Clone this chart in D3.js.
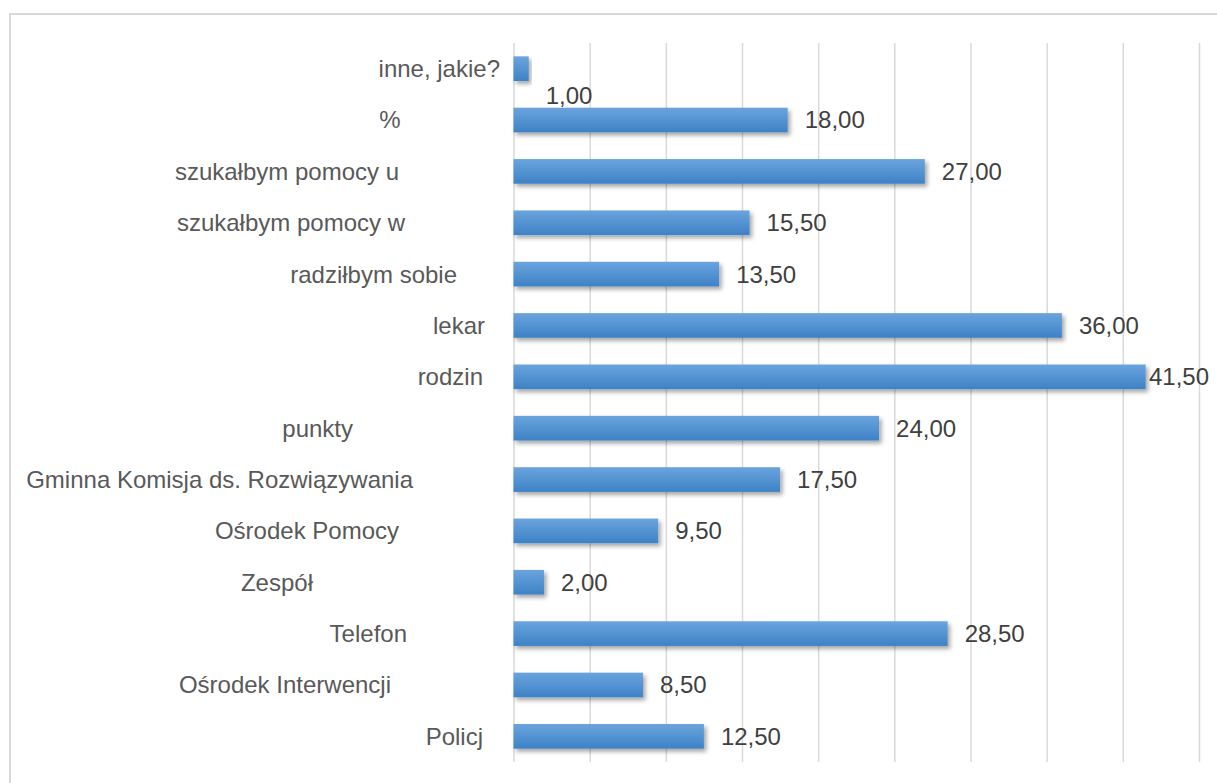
<!DOCTYPE html>
<html>
<head>
<meta charset="utf-8">
<script src="https://cdn.jsdelivr.net/npm/d3@7"></script>
<style>
  html, body { margin: 0; padding: 0; background: #ffffff; }
  svg { display: block; font-family: "Liberation Sans", Arial, sans-serif; }
</style>
</head>
<body>
<svg id="chart" width="1217" height="783"></svg>
<script>
// ---- data (top to bottom as shown) ----
const categories = [
  "inne, jakie?", "%", "szukałbym pomocy u", "szukałbym pomocy w", "radziłbym sobie",
  "lekar", "rodzin", "punkty", "Gminna Komisja ds. Rozwiązywania", "Ośrodek Pomocy",
  "Zespół", "Telefon", "Ośrodek Interwencji", "Policj"
];
const values = [1.00, 18.00, 27.00, 15.50, 13.50, 36.00, 41.50, 24.00, 17.50, 9.50, 2.00, 28.50, 8.50, 12.50];
const xTicks = [0, 5, 10, 15, 20, 25, 30, 35, 40, 45];

// ---- layout ----
const W = 1217, H = 783;
const plot = { left: 513.5, right: 1199, top: 43, bottom: 762 };
// gap between each category label's right end and the axis (labels are offset as in the source)
const labelGap = [13.5, 113, 114.5, 108.5, 56.5, 28.5, 30.5, 160.5, 100.5, 114.5, 200.5, 106.5, 122.5, 30.5];
const valueLabelDy = [27, 0, 0, 0, 0, 0, 0, 0, 0, 0, 0, 0, 0, 0];

const svg = d3.select("#chart");

// outer border
svg.append("rect")
  .attr("x", 10).attr("y", 14)
  .attr("width", W + 20).attr("height", H + 20)
  .attr("fill", "none").attr("stroke", "#d9d9d9").attr("stroke-width", 2);

const x = d3.scaleLinear().domain([0, 45]).range([plot.left, plot.right]);
const y = d3.scaleBand().domain(categories).range([plot.top, plot.bottom])
  .paddingInner(0.52).paddingOuter(0.26);

const defs = svg.append("defs");
const grad = defs.append("linearGradient").attr("id", "barGrad")
  .attr("x1", 0).attr("y1", 0).attr("x2", 0).attr("y2", 1);
grad.append("stop").attr("offset", "0%").attr("stop-color", "#6ba4dd");
grad.append("stop").attr("offset", "100%").attr("stop-color", "#3d82c6");

const shadow = defs.append("filter").attr("id", "shadow")
  .attr("x", "-10%").attr("y", "-30%").attr("width", "130%").attr("height", "180%");
shadow.append("feDropShadow")
  .attr("dx", 2.5).attr("dy", 3).attr("stdDeviation", 2)
  .attr("flood-color", "#000").attr("flood-opacity", 0.35);

// gridlines via axis
const gridAxis = d3.axisBottom(x).tickValues(xTicks).tickSize(plot.bottom - plot.top).tickFormat("");
const g = svg.append("g").attr("transform", `translate(0,${plot.top})`).call(gridAxis);
g.select(".domain").remove();
g.selectAll(".tick line").attr("stroke", "#d9d9d9").attr("stroke-width", 1.5);

// bars
const rows = categories.map((c, i) => ({ c, v: values[i], i }));
svg.append("g").selectAll("rect")
  .data(rows).join("rect")
  .attr("x", x(0))
  .attr("y", d => y(d.c))
  .attr("width", d => x(d.v) - x(0))
  .attr("height", y.bandwidth())
  .attr("fill", "url(#barGrad)")
  .attr("filter", "url(#shadow)");

// category labels
svg.append("g").selectAll("text")
  .data(rows).join("text")
  .attr("x", d => plot.left - labelGap[d.i])
  .attr("y", d => y(d.c) + y.bandwidth() / 2)
  .attr("dy", "0.35em")
  .attr("text-anchor", "end")
  .attr("font-size", 24)
  .attr("fill", "#595959")
  .text(d => d.c);

// value labels
const locale = d3.formatLocale({ decimal: ",", thousands: " ", grouping: [3], currency: ["", ""] });
const fmt = locale.format(".2f");
const vl = svg.append("g").selectAll("text")
  .data(rows).join("text")
  .attr("y", d => y(d.c) + y.bandwidth() / 2 + valueLabelDy[d.i])
  .attr("dy", "0.35em")
  .attr("font-size", 24)
  .attr("fill", "#404040")
  .text(d => fmt(d.v));
vl.each(function(d) {
  const w = this.getComputedTextLength();
  const px = Math.min(x(d.v) + 17, 1209 - w);
  d3.select(this).attr("x", px);
});
</script>
</body>
</html>
